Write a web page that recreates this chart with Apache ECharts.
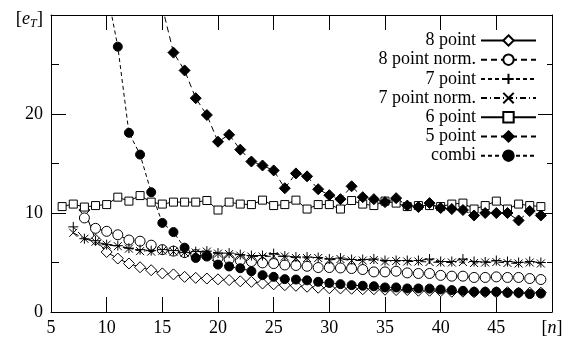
<!DOCTYPE html>
<html>
<head>
<meta charset="utf-8">
<script src="https://cdn.jsdelivr.net/npm/echarts@6/dist/echarts.min.js"></script>
<style>
html,body{margin:0;padding:0;background:#fff;}
#chart{width:569px;height:338px;}
</style>
</head>
<body>
<div id="chart"></div>
<script>
// ---- data (x = n, 6..49) ----
const nValues = [6,7,8,9,10,11,12,13,14,15,16,17,18,19,20,21,22,23,24,25,26,27,28,29,30,31,32,33,34,35,36,37,38,39,40,41,42,43,44,45,46,47,48,49];

const point8 = [null,null,10.3,7.3,6.06,5.4,4.9,4.52,4.22,3.9,3.8,3.55,3.45,3.38,3.3,3.22,3.1,3.05,2.88,2.8,2.71,2.65,2.55,2.45,2.4,2.38,2.35,2.3,2.3,2.25,2.22,2.22,2.15,2.15,2.1,2.05,2.05,2.0,2.0,2.0,2.0,1.95,1.95,1.95];
const point8norm = [null,null,9.5,8.45,8.15,7.8,7.27,7.15,6.75,6.3,6.15,6.0,5.8,5.65,5.45,5.33,5.2,5.1,4.96,4.89,4.75,4.7,4.62,4.49,4.49,4.45,4.39,4.29,4.05,4.05,4.12,3.95,3.89,3.89,3.7,3.62,3.62,3.49,3.49,3.55,3.49,3.49,3.38,3.28];
const point7 = [null,8.6,7.4,7.2,6.8,6.7,6.45,6.3,6.2,6.3,6.2,6.0,6.1,6.15,5.95,5.95,5.8,5.7,5.7,5.9,5.65,5.55,5.55,5.5,5.35,5.45,5.3,5.3,5.35,5.2,5.2,5.2,5.2,5.35,5.1,5.1,5.35,5.1,5.05,5.2,5.1,5.0,5.1,5.0];
const point7norm = [null,8.0,7.4,7.1,6.8,6.65,6.4,6.15,6.1,6.2,6.1,6.0,6.0,6.1,5.9,5.85,5.7,5.6,5.6,5.65,5.6,5.45,5.45,5.45,5.25,5.35,5.2,5.2,5.25,5.1,5.15,5.1,5.1,5.05,5.0,5.0,5.05,4.95,5.0,5.05,4.95,4.9,5.0,4.9];
const point6 = [10.65,10.9,10.6,10.75,10.85,11.6,11.2,11.76,11.1,10.9,11.1,11.1,11.1,11.26,10.3,11.1,10.9,10.85,11.3,10.75,10.85,11.3,10.4,10.85,10.85,10.4,11.26,10.9,10.75,11.2,11.0,10.65,10.75,10.75,10.65,10.9,11.0,10.4,10.75,11.2,10.4,10.9,10.75,10.65];
const point5 = [null,null,null,null,null,null,null,null,null,30.8,26.2,24.4,21.6,19.9,17.2,17.9,16.4,15.2,14.8,14.3,12.5,14.0,13.7,12.4,11.8,11.4,12.7,11.6,11.4,11.1,11.5,10.75,10.6,11.0,10.5,10.4,10.3,9.75,10.0,10.0,10.0,9.25,10.2,9.75];
const combi = [null,null,null,null,32.6,26.8,18.1,15.9,12.1,9.0,8.07,6.5,5.46,5.65,4.79,4.6,4.42,4.12,3.72,3.55,3.32,3.28,3.2,3.05,2.93,2.81,2.71,2.65,2.6,2.48,2.48,2.38,2.38,2.36,2.28,2.21,2.14,2.04,2.04,2.04,1.94,1.94,1.81,1.87];

const seriesNames = ['8 point','8 point norm.','7 point','7 point norm.','6 point','5 point','combi'];
const xTicks = {min:5, max:50, step:5, lastLabel:'[n]'};
const yTicks = {min:0, max:30, step:10, topLabel:'[e_T]'};

// ---- styling ----
const FONT = 'Liberation Serif';
const BLACK = '#000';
function pairs(arr){ const out=[]; arr.forEach((v,i)=>{ if(v!==null) out.push([nValues[i], v]); }); return out; }

const SYM = {
  hDiamond: 'path://M0,-1L1,0L0,1L-1,0Z',
  hCircle: 'path://M-1,0A1,1 0 1,0 1,0A1,1 0 1,0 -1,0Z',
  hSquare: 'path://M-1,-1L1,-1L1,1L-1,1Z',
  plus: 'path://M0,-1L0,1M-1,0L1,0',
  cross: 'path://M-1,-1L1,1M1,-1L-1,1'
};

function mk(name, arr, symbol, size, dash, hollow){
  return {
    name: name, type:'line', data: pairs(arr),
    symbol: symbol, symbolSize: size, symbolKeepAspect: true,
    clip: true, animation:false,
    lineStyle: {color: BLACK, width: 1, type: dash},
    itemStyle: {color: hollow ? '#fff' : BLACK, borderColor: BLACK, borderWidth: 1},
    emphasis: {disabled: true}
  };
}

const series = [
  mk(seriesNames[0], point8, SYM.hDiamond, 11, 'solid', true),
  mk(seriesNames[1], point8norm, SYM.hCircle, 10, [6,4], true),
  mk(seriesNames[2], point7, SYM.plus, 10, [4,3], false),
  mk(seriesNames[3], point7norm, SYM.cross, 8, [6,3,1,3], false),
  mk(seriesNames[4], point6, SYM.hSquare, 8, 'solid', true),
  mk(seriesNames[5], point5, 'diamond', 11, [6,4], false),
  mk(seriesNames[6], combi, 'circle', 9, [4,3], false)
];

const labelStyle = {color: BLACK, fontFamily: FONT, fontSize: 18};
const lineStyle = {color: BLACK, width: 1};

function xAxisCfg(pos, showLabel){
  return {
    type:'value', position: pos, min: xTicks.min, max: xTicks.max, interval: xTicks.step,
    axisLine: {show:true, onZero:false, lineStyle: lineStyle},
    axisTick: {show:true, inside:true, length:15, lineStyle: lineStyle},
    splitLine: {show:false},
    axisLabel: Object.assign({show: showLabel, margin: 7, showMinLabel:true, showMaxLabel:true,
      formatter: v => v === xTicks.max ? '[{i|n}]' : String(v),
      rich: {i: {fontStyle:'italic', fontFamily: FONT, fontSize: 18, color: BLACK}}
    }, labelStyle)
  };
}
function yAxisCfg(pos, showLabel, tickLen, minorLen){
  return {
    type:'value', position: pos, min: yTicks.min, max: yTicks.max, interval: yTicks.step,
    axisLine: {show:true, onZero:false, lineStyle: lineStyle},
    axisTick: {show:true, inside:true, length:tickLen, lineStyle: lineStyle},
    minorTick: {show:true, splitNumber:2, length:minorLen, lineStyle: lineStyle},
    splitLine: {show:false}, minorSplitLine: {show:false},
    axisLabel: Object.assign({show: showLabel, margin: 8, showMinLabel:true, showMaxLabel:true,
      formatter: v => v === yTicks.max ? '{b|[}{i|e}{s|T}{b|]}' : String(v),
      rich: {
        b: {fontFamily: FONT, fontSize: 19, color: BLACK, padding:[9,0,0,0]},
        i: {fontStyle:'italic', fontFamily: FONT, fontSize: 18, color: BLACK, padding:[9,0,0,0]},
        s: {fontStyle:'italic', fontFamily: FONT, fontSize: 12, color: BLACK, padding:[17,0,0,0]}
      }
    }, labelStyle)
  };
}

const chart = echarts.init(document.getElementById('chart'), null, {renderer:'canvas'});
chart.setOption({
  backgroundColor: '#fff',
  animation: false,
  textStyle: {fontFamily: FONT},
  grid: {left: 51, right: 17, top: 15, bottom: 26, containLabel: false},
  legend: {
    data: seriesNames, orient:'vertical', align:'right',
    right: 32, top: 31.5, padding: 0,
    itemWidth: 55, itemHeight: 13, itemGap: 1.2,
    selectedMode: false,
    textStyle: {color: BLACK, fontFamily: FONT, fontSize: 18, lineHeight: 16}
  },
  xAxis: [xAxisCfg('bottom', true), xAxisCfg('top', false)],
  yAxis: [yAxisCfg('left', true, 15, 8), yAxisCfg('right', false, 14, 5)],
  series: series
});
</script>
</body>
</html>
